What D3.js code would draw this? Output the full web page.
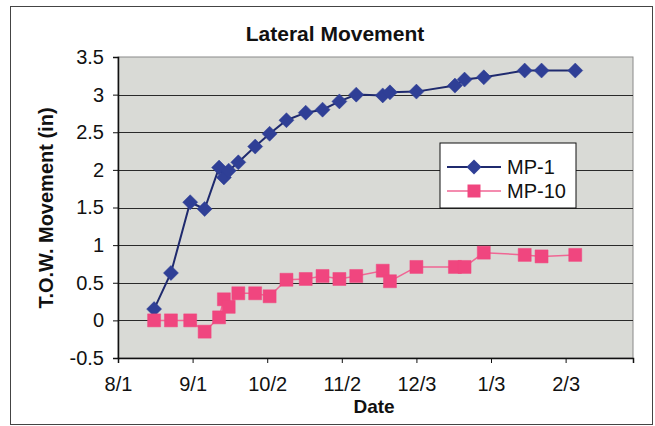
<!DOCTYPE html>
<html>
<head>
<meta charset="utf-8">
<script src="https://cdn.jsdelivr.net/npm/d3@7"></script>
<style>
  body { margin: 0; background: #fff; }
  text { font-family: "Liberation Sans", Arial, sans-serif; fill: #111; }
  .title, .label { font-weight: bold; }
</style>
</head>
<body>
<div id="chart"></div>
<script>
// survey dates (shared by both monuments)
const dates = ["2003-08-16", "2003-08-23", "2003-08-31", "2003-09-06", "2003-09-12", "2003-09-14",
  "2003-09-16", "2003-09-20", "2003-09-27", "2003-10-03", "2003-10-10", "2003-10-18",
  "2003-10-25", "2003-11-01", "2003-11-08", "2003-11-19", "2003-11-22", "2003-12-03",
  "2003-12-19", "2003-12-23", "2003-12-31", "2004-01-17", "2004-01-24", "2004-02-07"];
const mp1 = [0.15, 0.63, 1.57, 1.48, 2.03, 1.90, 1.99, 2.10, 2.31, 2.48, 2.66, 2.76,
  2.80, 2.91, 3.00, 2.99, 3.03, 3.04, 3.12, 3.20, 3.23, 3.32, 3.32, 3.32];
const mp10 = [0.00, 0.00, 0.00, -0.15, 0.04, 0.28, 0.18, 0.36, 0.36, 0.32, 0.54, 0.55,
  0.59, 0.55, 0.59, 0.66, 0.52, 0.71, 0.71, 0.71, 0.90, 0.87, 0.85, 0.87];
const seriesNames = ["MP-1", "MP-10"];
const xTickDates = ["2003-08-01", "2003-09-01", "2003-10-02", "2003-11-02", "2003-12-03", "2004-01-03", "2004-02-03"];
const xTickLabels = ["8/1", "9/1", "10/2", "11/2", "12/3", "1/3", "2/3"];
const yTicks = [-0.5, 0, 0.5, 1, 1.5, 2, 2.5, 3, 3.5];

const parse = d3.timeParse("%Y-%m-%d");

const margin = {top: 57, right: 22, bottom: 68, left: 118};
const width = 655 - margin.left - margin.right;
const height = 426 - margin.top - margin.bottom;

const root = d3.select("#chart")
  .append("svg")
    .attr("width", 655)
    .attr("height", 426);

// outer chart border
root.append("rect")
    .attr("x", 10.5).attr("y", 6.5)
    .attr("width", 642).attr("height", 418)
    .attr("fill", "none")
    .attr("stroke", "#444")
    .attr("stroke-width", 1);

const svg = root.append("g")
    .attr("transform", "translate(" + margin.left + "," + margin.top + ")");

// scales
const t0 = parse("2003-08-01");
const xScale = d3.scaleTime()
  .domain([t0, d3.timeDay.offset(t0, 214.5)])
  .range([0, width]);
const yScale = d3.scaleLinear()
  .domain([-0.5, 3.5])
  .range([height, 0]);

// plot area
svg.append("rect")
    .attr("width", width)
    .attr("height", height)
    .attr("fill", "#d9dad6")
    .attr("stroke", "#8a8a8a")
    .attr("stroke-width", 1);

// horizontal grid lines
svg.append("g")
  .selectAll("line")
  .data(yTicks.filter(v => v > -0.5 && v < 3.5))
  .enter()
  .append("line")
    .attr("x1", 0).attr("x2", width)
    .attr("y1", d => Math.round(yScale(d)) + 0.5)
    .attr("y2", d => Math.round(yScale(d)) + 0.5)
    .attr("stroke", "#2a2a2a")
    .attr("stroke-width", 1.2);

// axes
const xAxis = svg.append("g")
    .attr("transform", "translate(0," + height + ")")
  .call(d3.axisBottom(xScale)
    .tickValues(xTickDates.map(parse))
    .tickFormat((d, i) => xTickLabels[i])
    .tickSize(5).tickPadding(14));
const yAxis = svg.append("g")
  .call(d3.axisLeft(yScale)
    .tickValues(yTicks)
    .tickFormat(d => String(d))
    .tickSize(5).tickPadding(9));

[xAxis, yAxis].forEach(function(g) {
  g.select(".domain").attr("stroke", "#111").attr("stroke-width", 1.5);
  g.selectAll(".tick line").attr("stroke", "#111");
  g.selectAll("text").style("font-size", "20px").attr("fill", "#111");
});

// series
const series = [
  {name: seriesNames[0], values: mp1, line: "#1f2a6e", fill: "#2f3f96", shape: "diamond"},
  {name: seriesNames[1], values: mp10, line: "#f06694", fill: "#f0467f", shape: "square"}
];

const diamond = "M0,-7.5L7.5,0L0,7.5L-7.5,0Z";
const square = "M-6.5,-6.5H6.5V6.5H-6.5Z";

const line = d3.line()
  .x((d, i) => xScale(parse(dates[i])))
  .y(d => yScale(d));

series.forEach(function(s) {
  svg.append("path")
      .datum(s.values)
      .attr("fill", "none")
      .attr("stroke", s.line)
      .attr("stroke-width", s.shape === "diamond" ? 2 : 1.5)
      .attr("d", line);

  svg.append("g")
    .selectAll("path")
    .data(s.values)
    .enter()
    .append("path")
      .attr("transform", (d, i) => "translate(" + xScale(parse(dates[i])) + "," + yScale(d) + ")")
      .attr("d", s.shape === "diamond" ? diamond : square)
      .attr("fill", s.fill)
      .attr("stroke", s.fill)
      .attr("stroke-width", 0.5);
});

// legend
const legend = svg.append("g")
    .attr("transform", "translate(" + (440 - margin.left) + "," + (143 - margin.top) + ")");
legend.append("rect")
    .attr("width", 136).attr("height", 65)
    .attr("fill", "#fff")
    .attr("stroke", "#111")
    .attr("stroke-width", 1);
series.forEach(function(s, i) {
  const g = legend.append("g").attr("transform", "translate(0," + (24 + i * 24) + ")");
  g.append("line")
      .attr("x1", 7).attr("x2", 61)
      .attr("stroke", s.line)
      .attr("stroke-width", s.shape === "diamond" ? 2 : 1.5);
  g.append("path")
      .attr("transform", "translate(34,0)")
      .attr("d", s.shape === "diamond" ? diamond : square)
      .attr("fill", s.fill);
  g.append("text")
      .attr("x", 67).attr("y", 7)
      .style("font-size", "20px")
      .text(s.name);
});

// title and axis labels
root.append("text")
    .attr("class", "title")
    .attr("x", 335).attr("y", 41)
    .attr("text-anchor", "middle")
    .style("font-size", "21px")
    .text("Lateral Movement");

root.append("text")
    .attr("class", "label")
    .attr("transform", "translate(53,208) rotate(-90)")
    .attr("text-anchor", "middle")
    .style("font-size", "20px")
    .text("T.O.W. Movement (in)");

root.append("text")
    .attr("class", "label")
    .attr("x", 374).attr("y", 413)
    .attr("text-anchor", "middle")
    .style("font-size", "19px")
    .text("Date");
</script>
</body>
</html>
